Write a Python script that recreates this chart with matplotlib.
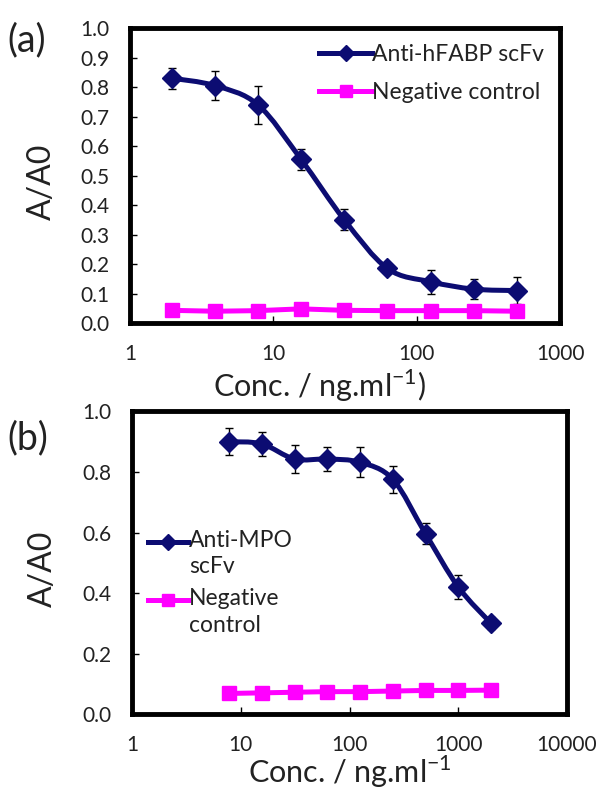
import numpy as np
import matplotlib
matplotlib.use("Agg")
import matplotlib.pyplot as plt
from matplotlib.path import Path
from matplotlib.patches import PathPatch
from matplotlib.lines import Line2D

plt.rcParams['font.family'] = ['Lato', 'DejaVu Sans']
plt.rcParams['mathtext.fontset'] = 'custom'
plt.rcParams['mathtext.rm'] = 'Lato'

# panel (a) data
conc_a = [1.95, 3.9, 7.8, 15.6, 31.25, 62.5, 125, 250, 500]
fabp = [0.83, 0.805, 0.74, 0.555, 0.35, 0.185, 0.14, 0.115, 0.11]
fabp_err = [0.035, 0.05, 0.065, 0.035, 0.035, 0.015, 0.04, 0.035, 0.045]
neg_a = [0.043, 0.040, 0.042, 0.048, 0.043, 0.042, 0.042, 0.042, 0.040]

# panel (b) data
conc_b = [7.8, 15.6, 31.25, 62.5, 125, 250, 500, 1000, 2000]
mpo = [0.90, 0.893, 0.843, 0.843, 0.832, 0.776, 0.596, 0.42, 0.30]
mpo_err = [0.045, 0.04, 0.045, 0.04, 0.05, 0.045, 0.035, 0.04, 0.02]
neg_b = [0.068, 0.070, 0.072, 0.074, 0.074, 0.076, 0.078, 0.078, 0.079]

NAVY = '#0c0c72'
MAG = '#ff00ff'
LW = 3.6


def smooth_line(ax, x, y, color, lw):
    # excel style smoothed line: bezier segments built in log-x space
    lx = np.log10(x)
    y = np.asarray(y, float)
    n = len(lx)
    verts = [(x[0], y[0])]
    codes = [Path.MOVETO]
    for i in range(n - 1):
        p0 = (lx[max(i - 1, 0)], y[max(i - 1, 0)])
        p1 = (lx[i], y[i])
        p2 = (lx[i + 1], y[i + 1])
        p3 = (lx[min(i + 2, n - 1)], y[min(i + 2, n - 1)])
        c1 = (p1[0] + (p2[0] - p0[0]) / 6, p1[1] + (p2[1] - p0[1]) / 6)
        c2 = (p2[0] - (p3[0] - p1[0]) / 6, p2[1] - (p3[1] - p1[1]) / 6)
        verts += [(10 ** c1[0], c1[1]), (10 ** c2[0], c2[1]), (x[i + 1], y[i + 1])]
        codes += [Path.CURVE4] * 3
    ax.add_patch(PathPatch(Path(verts, codes), fill=False, edgecolor=color,
                           lw=lw, zorder=2, capstyle='round', joinstyle='round'))


def style_axes(ax, ymax, ystep, xmax, xlabel, xlab_x, xlab_y):
    ax.set_xscale('log')
    ax.set_xlim(1, xmax)
    ax.set_ylim(0, ymax)
    ticks = np.arange(0, ymax + 1e-9, ystep)
    ax.set_yticks(ticks)
    ax.set_yticklabels([f'{v:.1f}' for v in ticks])
    ax.minorticks_off()
    ax.xaxis.set_major_formatter(matplotlib.ticker.FuncFormatter(lambda v, p: f'{v:g}'))
    ax.tick_params(direction='in', length=5, width=1, labelsize=15, pad=15,
                   colors='black', labelcolor='#222222')
    for s in ax.spines.values():
        s.set_linewidth(3.5)
    ax.patch.set_visible(False)
    ax.set_ylabel('A/A0', fontsize=23, color='#222222')
    ax.yaxis.set_label_coords(-0.17, 0.48)
    ax.set_xlabel(xlabel, fontsize=22, color='#222222')
    ax.xaxis.set_label_coords(xlab_x, xlab_y)


fig = plt.figure(figsize=(6, 7.97), dpi=100)

ax1 = fig.add_axes([0.2167, 0.5947, 0.7167, 0.3701])
smooth_line(ax1, conc_a, fabp, NAVY, LW)
ax1.errorbar(conc_a, fabp, yerr=fabp_err, fmt='none', ecolor='black',
             elinewidth=1, capsize=3, zorder=3)
ax1.plot(conc_a, fabp, 'D', color=NAVY, ms=10.5, zorder=4)
ax1.plot(conc_a, neg_a, 's-', color=MAG, lw=LW, ms=10, zorder=4)
style_axes(ax1, 1.0, 0.1, 1000, 'Conc. / ng.ml$^{-1}$)', 0.44, -0.15)
h1 = [Line2D([], [], color=NAVY, lw=LW, marker='D', ms=8),
      Line2D([], [], color=MAG, lw=LW, marker='s', ms=9)]
leg = ax1.legend(h1, ['Anti-hFABP scFv', 'Negative control'], loc='upper right',
                 bbox_to_anchor=(1.0, 1.0), frameon=False, fontsize=16.5,
                 handlelength=2.3, handletextpad=0.0, borderaxespad=0.3,
                 labelspacing=0.75)
for t in leg.get_texts():
    t.set_color('#222222')
fig.text(0.012, 0.95, '(a)', fontsize=27, va='center', color='#222222')

ax2 = fig.add_axes([0.22, 0.1041, 0.725, 0.3796])
smooth_line(ax2, conc_b, mpo, NAVY, LW)
ax2.errorbar(conc_b, mpo, yerr=mpo_err, fmt='none', ecolor='black',
             elinewidth=1, capsize=3, zorder=3)
ax2.plot(conc_b, mpo, 'D', color=NAVY, ms=10.5, zorder=4)
ax2.plot(conc_b, neg_b, 's-', color=MAG, lw=LW, ms=10, zorder=4)
style_axes(ax2, 1.0, 0.2, 10000, 'Conc. / ng.ml$^{-1}$', 0.5, -0.13)

# legend for (b): handle sits beside the first line of each wrapped label
leg_rows = [(0.57, NAVY, 'D', 8, 'Anti-MPO\nscFv'),
            (0.378, MAG, 's', 9, 'Negative\ncontrol')]
for ypos, col, mk, ms, lab in leg_rows:
    ax2.add_line(Line2D([0.037, 0.129], [ypos, ypos], transform=ax2.transAxes,
                        color=col, lw=LW, zorder=5))
    ax2.add_line(Line2D([0.083], [ypos], transform=ax2.transAxes, color=col,
                        marker=mk, ms=ms, zorder=5))
    ax2.text(0.131, ypos + 0.037, lab, transform=ax2.transAxes, fontsize=16.5,
             va='top', ha='left', linespacing=1.3, color='#222222')
fig.text(0.012, 0.45, '(b)', fontsize=27, va='center', color='#222222')

fig.savefig('out.png', dpi=100)
